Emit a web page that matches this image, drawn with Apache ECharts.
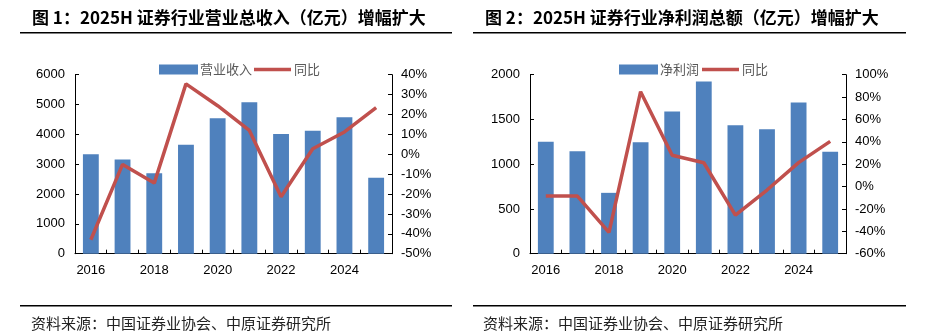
<!DOCTYPE html>
<html>
<head>
<meta charset="utf-8">
<script src="https://cdn.jsdelivr.net/npm/echarts@6/dist/echarts.min.js"></script>
<style>
html,body{margin:0;padding:0;background:#fff;}
#c{width:950px;height:334px;}
</style>
</head>
<body>
<div id="c"></div>
<script>
// ---- data ----
var years = ['2016','2017','2018','2019','2020','2021','2022','2023','2024','2025H'];
var revenue = [3330, 3160, 2700, 3650, 4540, 5080, 4010, 4120, 4570, 2550];
var revenueYoY = [-43.0, -5.1, -14.5, 35.4, 24.4, 12.0, -21.4, 2.8, 11.2, 23.5];
var profit = [1250, 1145, 680, 1245, 1590, 1925, 1435, 1390, 1690, 1140];
var profitYoY = [-8.5, -8.5, -41.0, 84.8, 28.0, 21.3, -25.5, -3.1, 21.4, 40.4];
var xLabels = ['2016','','2018','','2020','','2022','','2024',''];
var title1 = '图 1：2025H 证券行业营业总收入（亿元）增幅扩大';
var title2 = '图 2：2025H 证券行业净利润总额（亿元）增幅扩大';
var sourceText = '资料来源：中国证券业协会、中原证券研究所';
var legend1 = ['营业收入', '同比'];
var legend2 = ['净利润', '同比'];

var BLUE = '#4F81BD', RED = '#C0504D';
var FONT = 'Arial, "Liberation Sans", "Noto Sans CJK SC", sans-serif';
var CJK = '"Noto Sans CJK SC", Arial, sans-serif';

function xAxis(gi) {
  return {
    type: 'category', gridIndex: gi, data: years,
    axisLine: {lineStyle: {color: '#000', width: 1}},
    axisTick: {show: true, inside: true, length: 4, interval: 0, lineStyle: {color: '#000'}},
    axisLabel: {interval: 0, margin: 10, color: '#000', fontSize: 13, fontFamily: FONT,
      formatter: function (v, i) { return xLabels[i]; }},
    splitLine: {show: false}
  };
}
function yAxis(gi, pos, min, max, interval, pct, margin) {
  return {
    type: 'value', gridIndex: gi, position: pos, min: min, max: max, interval: interval,
    axisLine: {show: true, lineStyle: {color: '#000', width: 1}},
    axisTick: {show: true, inside: true, length: 4, lineStyle: {color: '#000'}},
    axisLabel: {margin: margin, color: '#000', fontSize: 13, fontFamily: FONT,
      formatter: function (v) { return String(v) + (pct ? '%' : ''); }},
    splitLine: {show: false}
  };
}
function lineG(x1, y, x2) {
  return {type: 'line', shape: {x1: x1, y1: y, x2: x2, y2: y}, style: {stroke: '#000', lineWidth: 1.5}};
}
function txt(x, y, s, size, weight, color) {
  return {type: 'text', x: x, y: y, style: {text: s, fontSize: size, fontWeight: weight,
    fontFamily: CJK, fill: color, textVerticalAlign: 'middle', textAlign: 'left'}};
}
function legendBar(name, left) {
  return {data: [name], left: left, top: 58, itemWidth: 39, itemHeight: 10, icon: 'rect',
    textStyle: {color: '#595959', fontSize: 13, fontFamily: CJK, padding: [0,0,0,-3]}};
}
function legendLine(name, left) {
  return {data: [name], left: left, top: 58, itemWidth: 37, itemHeight: 3.5, icon: 'rect',
    textStyle: {color: '#595959', fontSize: 13, fontFamily: CJK, padding: [0,0,0,-2]}};
}

var chart = echarts.init(document.getElementById('c'), null, {renderer: 'canvas'});
chart.setOption({
  animation: false,
  backgroundColor: '#fff',
  grid: [
    {left: 75, right: 558, top: 74.7, bottom: 80.3},
    {left: 530, right: 104, top: 74.7, bottom: 80.3}
  ],
  legend: [
    legendBar(legend1[0], 154), legendLine(legend1[1], 249),
    legendBar(legend2[0], 614), legendLine(legend2[1], 697)
  ],
  xAxis: [xAxis(0), xAxis(1)],
  yAxis: [
    yAxis(0, 'left', 0, 6000, 1000, false, 10),
    yAxis(0, 'right', -50, 40, 10, true, 9),
    yAxis(1, 'left', 0, 2000, 500, false, 10),
    yAxis(1, 'right', -60, 100, 20, true, 9)
  ],
  series: [
    {name: legend1[0], type: 'bar', xAxisIndex: 0, yAxisIndex: 0, data: revenue, barWidth: '50%',
      itemStyle: {color: BLUE}},
    {name: legend1[1], type: 'line', xAxisIndex: 0, yAxisIndex: 1, data: revenueYoY,
      symbol: 'none', lineStyle: {color: RED, width: 3.5}, itemStyle: {color: RED}},
    {name: legend2[0], type: 'bar', xAxisIndex: 1, yAxisIndex: 2, data: profit, barWidth: '50%',
      itemStyle: {color: BLUE}},
    {name: legend2[1], type: 'line', xAxisIndex: 1, yAxisIndex: 3, data: profitYoY,
      symbol: 'none', lineStyle: {color: RED, width: 3.5}, itemStyle: {color: RED}}
  ],
  graphic: [
    txt(32, 18, title1, 17, 'bold', '#000'),
    txt(485, 18, title2, 17, 'bold', '#000'),
    lineG(20, 32.7, 452),
    lineG(473, 32.7, 906),
    lineG(20, 305.7, 452),
    lineG(473, 305.7, 906),
    txt(31, 323, sourceText, 15, 'normal', '#222'),
    txt(483, 323, sourceText, 15, 'normal', '#222')
  ]
});
</script>
</body>
</html>
